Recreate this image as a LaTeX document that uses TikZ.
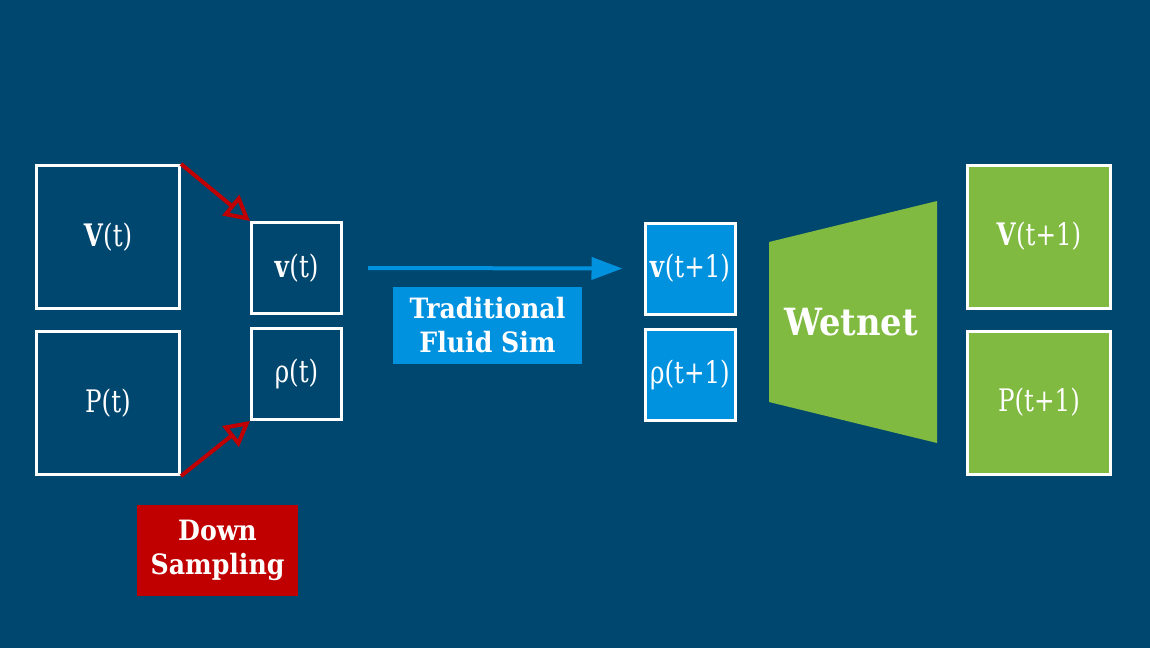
\documentclass[tikz,border=0pt]{standalone}
\usepackage{fontspec}
\setmainfont{DejaVu Serif Condensed}
\newfontfamily\narrowserif[FakeStretch=0.88]{DejaVu Serif Condensed}
\usetikzlibrary{arrows.meta}
\definecolor{bg}{HTML}{00476F}
\definecolor{simblue}{HTML}{0091DF}
\definecolor{netgreen}{HTML}{80BA41}
\definecolor{downred}{HTML}{C00000}
\tikzset{
  field/.style={draw=white, line width=3pt, text=white, inner sep=0pt,
    font=\narrowserif\fontsize{31}{34}\selectfont},
  bigfield/.style={field, minimum width=143pt, minimum height=143pt},
  smallfield/.style={field, minimum width=90pt, minimum height=91pt},
  tag/.style={text=white, align=center, inner sep=0pt,
    font=\bfseries\fontsize{28}{34}\selectfont},
  downarrow/.style={downred, line width=4pt, -{Triangle[open, length=25pt, width=26pt]}},
}
\begin{document}
\begin{tikzpicture}[x=1pt,y=-1pt]
  \fill[bg] (0,0) rectangle (1150,648);
  \useasboundingbox (0,0) rectangle (1150,648);

  % full-resolution fields at time t
  \node[bigfield] (Vt) at (108,237) {\textbf{V}(t)};
  \node[bigfield] (Pt) at (108,403) {P(t)};

  % down-sampled fields
  \node[smallfield] (vt) at (296.5,268) {\textbf{v}(t)};
  \node[smallfield] (rt) at (296.5,374) {ρ(t)};

  % simulated fields at t+1
  \node[smallfield, fill=simblue] (vn) at (690,268.5) {\textbf{v}(t+1)};
  \node[smallfield, fill=simblue] (rn) at (690,374.5) {ρ(t+1)};

  % network
  \fill[netgreen] (769,242) -- (937,201) -- (937,443) -- (769,402) -- cycle;
  \node[text=white, font=\bfseries\fontsize{37.5}{42}\selectfont] (wet) at (851,322) {Wetnet};

  % up-sampled output
  \node[bigfield, fill=netgreen] (Vn) at (1039,236.5) {\textbf{V}(t+1)};
  \node[bigfield, fill=netgreen] (Pn) at (1039,402.5) {P(t+1)};

  % labels
  \node[tag, fill=simblue, minimum width=189pt, minimum height=77pt] (sim) at (487.5,325.5) {Traditional\\Fluid Sim};
  \node[tag, fill=downred, minimum width=161pt, minimum height=91pt] (down) at (217.5,550.5) {Down\\Sampling};

  % connectors
  \draw[downarrow] (Vt.north east) -- (vt.north west);
  \draw[downarrow] (Pt.south east) -- (rt.south west);
  \draw[simblue, line width=4pt, -{Triangle[length=31pt, width=22pt]}] ([xshift=25pt]vt.east) -- ([xshift=-21pt]vn.west);
\end{tikzpicture}
\end{document}
